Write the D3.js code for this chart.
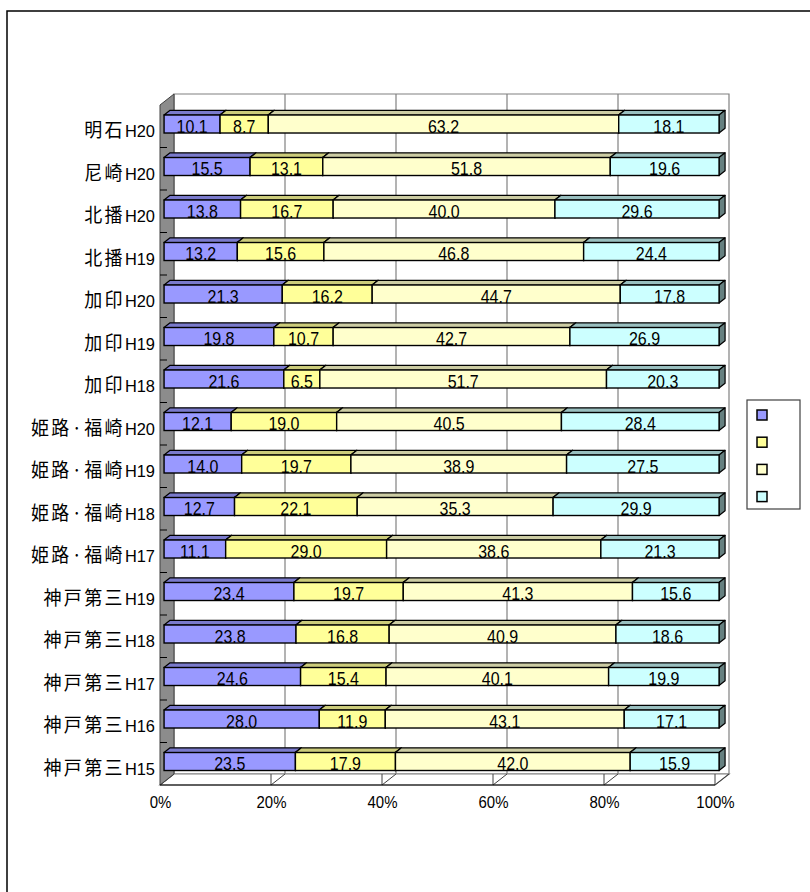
<!DOCTYPE html>
<html>
<head>
<meta charset="utf-8">
<script src="https://cdn.jsdelivr.net/npm/d3@7/dist/d3.min.js"></script>
<style>
  html, body { margin: 0; padding: 0; background: #fff; }
  svg { display: block; }
</style>
</head>
<body>
<svg id="chart" width="810" height="892"></svg>
<script>
// Category labels, listed from the top bar to the bottom bar
const categories = ["明石H20", "尼崎H20", "北播H20", "北播H19", "加印H20", "加印H19", "加印H18",
  "姫路·福崎H20", "姫路·福崎H19", "姫路·福崎H18", "姫路·福崎H17",
  "神戸第三H19", "神戸第三H18", "神戸第三H17", "神戸第三H16", "神戸第三H15"];

// Four stacked series (percent shares per category)
const series1 = [10.1, 15.5, 13.8, 13.2, 21.3, 19.8, 21.6, 12.1, 14.0, 12.7, 11.1, 23.4, 23.8, 24.6, 28.0, 23.5];
const series2 = [8.7, 13.1, 16.7, 15.6, 16.2, 10.7, 6.5, 19.0, 19.7, 22.1, 29.0, 19.7, 16.8, 15.4, 11.9, 17.9];
const series3 = [63.2, 51.8, 40.0, 46.8, 44.7, 42.7, 51.7, 40.5, 38.9, 35.3, 38.6, 41.3, 40.9, 40.1, 43.1, 42.0];
const series4 = [18.1, 19.6, 29.6, 24.4, 17.8, 26.9, 20.3, 28.4, 27.5, 29.9, 21.3, 15.6, 18.6, 19.9, 17.1, 15.9];

const seriesKeys = ["s1", "s2", "s3", "s4"];
const xTicks = [0, 0.2, 0.4, 0.6, 0.8, 1.0];

// Face colours for each series: front, top, right side
const frontColors = ["#9999FF", "#FFFF99", "#FFFFCC", "#CCFFFF"];
const topColors = ["#7A7ACC", "#CCCC7A", "#CCCCA3", "#99BFBF"];
const sideColors = ["#4D4D80", "#80804D", "#808066", "#668080"];

const rows = categories.map((c, i) => ({
  cat: c, s1: series1[i], s2: series2[i], s3: series3[i], s4: series4[i]
}));
const stacked = d3.stack().keys(seriesKeys).offset(d3.stackOffsetExpand)(rows);

const svg = d3.select("#chart");

// Front plane of the plot box and its oblique depth
const x = d3.scaleLinear().domain([0, 1]).range([160, 715]);
const y = d3.scaleBand().domain(categories).range([105, 785]);
const DX = 14, DY = -11;
const yTop = y.range()[0], yBot = y.range()[1];
const P = (v, yy, d) => [x(v) + d * DX, yy + d * DY];
const line = d3.line();
const TEXT_STRETCH = 1.15; // glyphs in this chart are drawn slightly tall

// Outer chart frame
svg.append("rect")
  .attr("x", 7).attr("y", 11).attr("width", 900).attr("height", 1000)
  .attr("fill", "none").attr("stroke", "#000").attr("stroke-width", 1.5);

// Back wall
svg.append("path")
  .attr("d", line([P(0, yTop, 1), P(1, yTop, 1), P(1, yBot, 1), P(0, yBot, 1)]) + "Z")
  .attr("fill", "#fff").attr("stroke", "#808080").attr("stroke-width", 1.2);

// Vertical gridlines on the back wall
svg.append("g").selectAll("line")
  .data(xTicks.slice(1, -1))
  .join("line")
  .attr("x1", d => P(d, yTop, 1)[0]).attr("y1", P(0, yTop, 1)[1])
  .attr("x2", d => P(d, yBot, 1)[0]).attr("y2", P(0, yBot, 1)[1])
  .attr("stroke", "#808080").attr("stroke-width", 1.2);

// Floor
svg.append("path")
  .attr("d", line([P(0, yBot, 0), P(1, yBot, 0), P(1, yBot, 1), P(0, yBot, 1)]) + "Z")
  .attr("fill", "#fff").attr("stroke", "#808080").attr("stroke-width", 1.2);

// Floor tick lines: short upright tick plus the receding diagonal
const floorTicks = svg.append("g");
floorTicks.selectAll("line.diag")
  .data(xTicks)
  .join("line").attr("class", "diag")
  .attr("x1", d => P(d, yBot, 0)[0]).attr("y1", P(0, yBot, 0)[1])
  .attr("x2", d => P(d, yBot, 1)[0]).attr("y2", P(0, yBot, 1)[1])
  .attr("stroke", "#404040").attr("stroke-width", 1);
floorTicks.selectAll("line.tick")
  .data(xTicks.slice(1))
  .join("line").attr("class", "tick")
  .attr("x1", d => x(d)).attr("y1", yBot)
  .attr("x2", d => x(d)).attr("y2", yBot + DY)
  .attr("stroke", "#404040").attr("stroke-width", 1);

// Left side wall
svg.append("path")
  .attr("d", line([P(0, yTop, 0), P(0, yTop, 1), P(0, yBot, 1), P(0, yBot, 0)]) + "Z")
  .attr("fill", "#8C8C8C").attr("stroke", "#404040").attr("stroke-width", 1);

// Front floor edge (value axis line)
svg.append("line")
  .attr("x1", x(0)).attr("y1", yBot).attr("x2", x(1)).attr("y2", yBot)
  .attr("stroke", "#000").attr("stroke-width", 1.2);

// Category separators on the wall
svg.append("g").selectAll("line")
  .data(categories.slice(1))
  .join("line")
  .attr("x1", x(0)).attr("x2", x(0) + 7)
  .attr("y1", d => y(d)).attr("y2", d => y(d))
  .attr("stroke", "#000").attr("stroke-width", 1);

// Bars: front face sits at depth f0, back at f1
const f0 = 0.29, f1 = 0.72;
const barOff = 13.2, barH = 18;
const bars = svg.append("g");
stacked.forEach((layer, si) => {
  const g = bars.append("g");
  layer.forEach((seg, ci) => {
    const c = categories[ci];
    const t = y(c) + barOff, b = t + barH;
    const a0 = seg[0], a1 = seg[1];
    // top face
    g.append("path")
      .attr("d", line([P(a0, t, f0), P(a1, t, f0), P(a1, t, f1), P(a0, t, f1)]) + "Z")
      .attr("fill", topColors[si]).attr("stroke", "#000").attr("stroke-width", 1.2)
      .attr("stroke-linejoin", "round");
    // right side face
    g.append("path")
      .attr("d", line([P(a1, t, f0), P(a1, t, f1), P(a1, b, f1), P(a1, b, f0)]) + "Z")
      .attr("fill", sideColors[si]).attr("stroke", "#000").attr("stroke-width", 1.2)
      .attr("stroke-linejoin", "round");
    // front face
    const p0 = P(a0, t, f0), p1 = P(a1, b, f0);
    g.append("rect")
      .attr("x", p0[0]).attr("y", p0[1])
      .attr("width", p1[0] - p0[0]).attr("height", p1[1] - p0[1])
      .attr("fill", frontColors[si]).attr("stroke", "#000").attr("stroke-width", 1.4);
  });
});

// Value labels on the front faces
const fmt = d3.format(".1f");
const labels = svg.append("g")
  .attr("font-family", "'Liberation Sans', Arial, sans-serif")
  .attr("font-size", 16).attr("fill", "#000").attr("text-anchor", "middle");
stacked.forEach((layer) => {
  layer.forEach((seg, ci) => {
    const c = categories[ci];
    const b = y(c) + barOff + barH;
    const pa = P(seg[0], b, f0), pb = P(seg[1], b, f0);
    labels.append("text")
      .attr("transform", `translate(${(pa[0] + pb[0]) / 2},${pa[1] - 0.5}) scale(1,${TEXT_STRETCH})`)
      .text(fmt(seg.data[layer.key]));
  });
});

// Category labels
const catLabels = svg.append("g")
  .attr("font-family", "'Liberation Sans', Arial, sans-serif")
  .attr("text-anchor", "end").attr("fill", "#000");
categories.forEach((c) => {
  const m = c.match(/^(.*?)(H\d+)$/);
  const tEl = catLabels.append("text")
    .attr("transform", `translate(155,${y(c) + 32.3}) scale(1,1.05)`);
  tEl.append("tspan")
    .attr("font-family", "'Noto Sans CJK JP', sans-serif")
    .attr("font-size", 18).attr("letter-spacing", 2.4)
    .text(m[1]);
  tEl.append("tspan").attr("font-size", 16.4).text(m[2]);
});

// Value axis tick labels
const axis = d3.axisBottom(x).tickValues(xTicks).tickFormat(d3.format(".0%")).tickSize(0).tickPadding(0);
const ax = svg.append("g").attr("transform", `translate(0,${yBot})`).call(axis);
ax.select(".domain").remove();
ax.selectAll("text")
  .attr("font-family", "'Liberation Sans', Arial, sans-serif")
  .attr("font-size", 15).attr("fill", "#000")
  .attr("dy", null).attr("y", null)
  .attr("transform", `translate(0,23) scale(1,${TEXT_STRETCH})`);

// Legend
const legend = svg.append("g");
legend.append("rect")
  .attr("x", 747).attr("y", 400).attr("width", 53).attr("height", 109)
  .attr("fill", "#fff").attr("stroke", "#404040").attr("stroke-width", 1.2);
legend.selectAll("rect.key")
  .data(seriesKeys)
  .join("rect").attr("class", "key")
  .attr("x", 757).attr("y", (d, i) => 410 + i * 27.2)
  .attr("width", 10).attr("height", 10)
  .attr("fill", (d, i) => frontColors[i])
  .attr("stroke", "#000").attr("stroke-width", 1.5);
</script>
</body>
</html>
